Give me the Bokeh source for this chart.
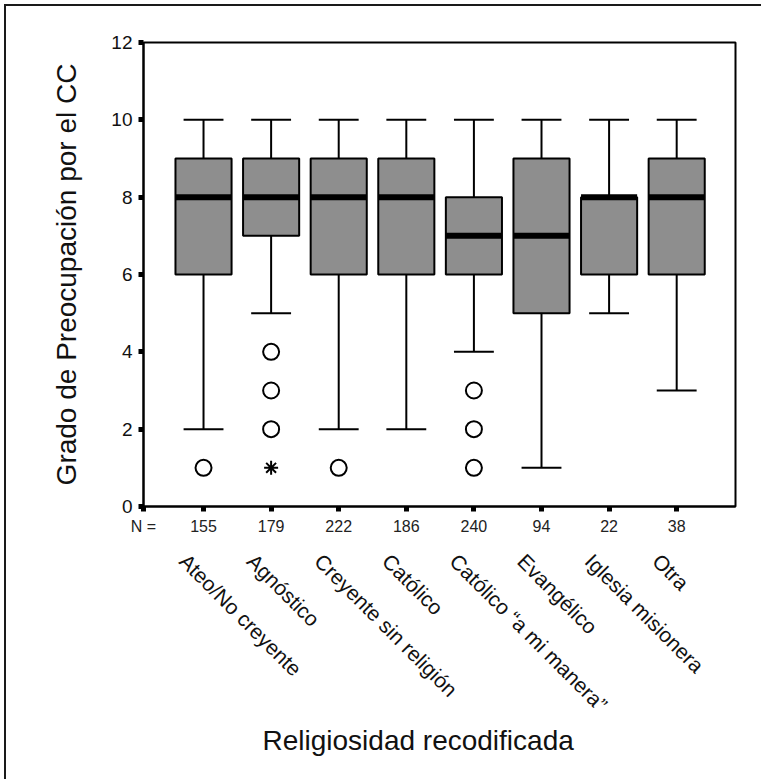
import math
from bokeh.plotting import figure
from bokeh.models import Range1d, LinearAxis, FixedTicker, ColumnDataSource, Title
from bokeh.embed import file_html
from bokeh.resources import INLINE

categories = ["Ateo/No creyente", "Agnóstico", "Creyente sin religión", "Católico",
              "Católico \u201ca mi manera\u201d", "Evangélico", "Iglesia misionera", "Otra"]
n_counts = [155, 179, 222, 186, 240, 94, 22, 38]
q1 = [6, 7, 6, 6, 6, 5, 6, 6]
median = [8, 8, 8, 8, 7, 7, 8, 8]
q3 = [9, 9, 9, 9, 8, 9, 8, 9]
whisker_low = [2, 5, 2, 2, 4, 1, 5, 3]
whisker_high = [10, 10, 10, 10, 10, 10, 10, 10]
outlier_cat = [1, 2, 2, 2, 3, 5, 5, 5]
outlier_val = [1, 4, 3, 2, 1, 3, 2, 1]
extreme_cat = [2]
extreme_val = [1]
y_ticks = [0, 2, 4, 6, 8, 10, 12]
n_prefix = "N ="
x_title = "Religiosidad recodificada"
y_title = "Grado de Preocupación por el CC"

FONT = "Liberation Sans"
BOX_W = 0.83
CAP_W = 0.59
X0, X1 = 0.112, 8.87

pos = list(range(1, len(categories) + 1))

p = figure(width=757, height=775, x_range=Range1d(X0, X1), y_range=Range1d(0, 12),
           output_backend="svg", toolbar_location=None,
           min_border_left=137, min_border_right=28, min_border_top=36, min_border_bottom=275,
           background_fill_color="white", border_fill_color="white")
p.styles = {"margin-left": "4px", "margin-top": "4px",
            "border-left": "2px solid #1a1a1a", "border-top": "2px solid #1a1a1a"}
p.xgrid.visible = False
p.ygrid.visible = False
p.outline_line_color = "black"
p.outline_line_width = 2

src = ColumnDataSource(dict(x=pos, q1=q1, med=median, q3=q3, lo=whisker_low, hi=whisker_high,
                            xl=[v - BOX_W / 2 for v in pos], xr=[v + BOX_W / 2 for v in pos],
                            cl=[v - CAP_W / 2 for v in pos], cr=[v + CAP_W / 2 for v in pos]))

# whiskers
p.segment(x0="x", x1="x", y0="q3", y1="hi", source=src, line_color="black", line_width=2)
p.segment(x0="x", x1="x", y0="lo", y1="q1", source=src, line_color="black", line_width=2)
p.segment(x0="cl", x1="cr", y0="hi", y1="hi", source=src, line_color="black", line_width=2)
p.segment(x0="cl", x1="cr", y0="lo", y1="lo", source=src, line_color="black", line_width=2)
# boxes
p.vbar(x="x", width=BOX_W, bottom="q1", top="q3", source=src,
       fill_color="#8e8e8e", line_color="black", line_width=2)
# medians
p.segment(x0="xl", x1="xr", y0="med", y1="med", source=src, line_color="black", line_width=6)
# outliers
p.scatter(x=outlier_cat, y=outlier_val, marker="circle", size=16,
          fill_color="white", line_color="black", line_width=2)
p.scatter(x=extreme_cat, y=extreme_val, marker="asterisk", size=14,
          line_color="black", line_width=2)

# y axis
ya = p.yaxis[0]
ya.ticker = FixedTicker(ticks=y_ticks)
ya.minor_tick_line_color = None
ya.major_tick_in = 0
ya.major_tick_out = 5
ya.major_tick_line_width = 5
ya.axis_line_width = 2
ya.major_label_standoff = 6
ya.major_label_text_font = FONT
ya.major_label_text_font_size = "19px"
ya.major_label_text_color = "#111111"
ya.axis_label = y_title
ya.axis_label_text_font = FONT
ya.axis_label_text_font_size = "28px"
ya.axis_label_text_font_style = "normal"
ya.axis_label_text_color = "#111111"
ya.axis_label_standoff = 26

# x axis with N (the "N =" label sits at the left edge of the frame)
xa = p.xaxis[0]
n_ticks = [X0 + 0.0005] + pos
xa.ticker = FixedTicker(ticks=n_ticks)
overrides = {X0 + 0.0005: n_prefix}
overrides.update({i: str(n) for i, n in zip(pos, n_counts)})
xa.major_label_overrides = overrides
xa.minor_tick_line_color = None
xa.major_tick_in = 0
xa.major_tick_out = 5
xa.major_tick_line_width = 5
xa.axis_line_width = 2
xa.major_label_standoff = 6
xa.major_label_text_font = FONT
xa.major_label_text_font_size = "16px"
xa.major_label_text_color = "#222222"

# category labels axis
p.extra_x_ranges = {"lab": Range1d(X0 + 0.3, X1 + 0.3)}
ca = LinearAxis(x_range_name="lab", ticker=FixedTicker(ticks=pos),
                major_label_overrides={i: c for i, c in zip(pos, categories)})
ca.major_label_orientation = -math.pi / 4
ca.axis_line_color = None
ca.major_tick_line_color = None
ca.minor_tick_line_color = None
ca.major_tick_in = 0
ca.major_tick_out = 0
ca.major_label_standoff = 20
ca.major_label_text_font = FONT
ca.major_label_text_font_size = "21px"
ca.major_label_text_color = "#111111"
p.add_layout(ca, "below")

p.add_layout(Title(text=x_title, align="left", offset=119, standoff=-7,
                   text_font=FONT, text_font_size="28px", text_font_style="normal",
                   text_color="#111111"), "below")

open("out.html", "w").write(file_html(p, INLINE))
